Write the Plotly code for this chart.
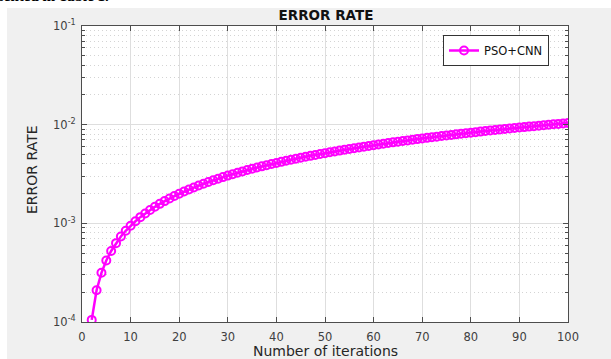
import plotly.graph_objects as go

iterations = list(range(2, 101))
error_rate = [
    1.05e-4, 2.10e-4, 3.15e-4, 4.20e-4, 5.25e-4, 6.30e-4, 7.35e-4, 8.40e-4, 9.45e-4,
    1.05e-3, 1.155e-3, 1.26e-3, 1.365e-3, 1.47e-3, 1.575e-3, 1.68e-3, 1.785e-3, 1.89e-3, 1.995e-3,
    2.10e-3, 2.205e-3, 2.31e-3, 2.415e-3, 2.52e-3, 2.625e-3, 2.73e-3, 2.835e-3, 2.94e-3, 3.045e-3,
    3.15e-3, 3.255e-3, 3.36e-3, 3.465e-3, 3.57e-3, 3.675e-3, 3.78e-3, 3.885e-3, 3.99e-3, 4.095e-3,
    4.20e-3, 4.305e-3, 4.41e-3, 4.515e-3, 4.62e-3, 4.725e-3, 4.83e-3, 4.935e-3, 5.04e-3, 5.145e-3,
    5.25e-3, 5.355e-3, 5.46e-3, 5.565e-3, 5.67e-3, 5.775e-3, 5.88e-3, 5.985e-3, 6.09e-3, 6.195e-3,
    6.30e-3, 6.405e-3, 6.51e-3, 6.615e-3, 6.72e-3, 6.825e-3, 6.93e-3, 7.035e-3, 7.14e-3, 7.245e-3,
    7.35e-3, 7.455e-3, 7.56e-3, 7.665e-3, 7.77e-3, 7.875e-3, 7.98e-3, 8.085e-3, 8.19e-3, 8.295e-3,
    8.40e-3, 8.505e-3, 8.61e-3, 8.715e-3, 8.82e-3, 8.925e-3, 9.03e-3, 9.135e-3, 9.24e-3, 9.345e-3,
    9.45e-3, 9.555e-3, 9.66e-3, 9.765e-3, 9.87e-3, 9.975e-3, 1.008e-2, 1.0185e-2, 1.029e-2, 1.0395e-2,
]
series_name = "PSO+CNN"
x_ticks = [0, 10, 20, 30, 40, 50, 60, 70, 80, 90, 100]
y_ticks = [1e-4, 1e-3, 1e-2, 1e-1]
y_ticklabels = ["10<sup>-4</sup>", "10<sup>-3</sup>", "10<sup>-2</sup>", "10<sup>-1</sup>"]
y_minor = [m * d for d in [1e-4, 1e-3, 1e-2] for m in range(2, 10)]
x_title = "Number of iterations"
y_title = "ERROR RATE"
chart_title = "ERROR RATE"

W, H = 611, 359
L, R, T, B = 82, 568, 26, 322
FONT = "DejaVu Sans, Verdana, sans-serif"
AXC = "#4d4d4d"

fig = go.Figure()
fig.add_trace(go.Scatter(
    x=iterations, y=error_rate, name=series_name, mode="lines+markers",
    line=dict(color="#ff00ff", width=2.5),
    marker=dict(symbol="circle-open", size=8, color="#ff00ff", line=dict(width=2, color="#ff00ff")),
))

def px_x(p):
    return (p - L) / (R - L)

def px_y(p):
    return (B - p) / (B - T)

shapes = [
    # white page areas outside the gray figure panel
    dict(type="rect", xref="paper", yref="paper", x0=px_x(-5), x1=px_x(W + 5), y0=px_y(8), y1=px_y(-5),
         fillcolor="white", line=dict(width=0), layer="below"),
    dict(type="rect", xref="paper", yref="paper", x0=px_x(-5), x1=px_x(7), y0=px_y(H + 5), y1=px_y(-5),
         fillcolor="white", line=dict(width=0), layer="below"),
]

fig.update_layout(
    width=W, height=H,
    margin=dict(l=L, r=W - R, t=T, b=H - B, pad=0, autoexpand=False),
    paper_bgcolor="#f0f0f0", plot_bgcolor="white",
    font=dict(family=FONT, size=11, color="#262626"),
    title=dict(text="<b>" + chart_title + "</b>", x=326 / W, xanchor="center", y=1 - 15 / H, yanchor="middle",
               font=dict(size=13.5, color="#111111")),
    showlegend=True,
    legend=dict(x=px_x(443), y=px_y(35), xanchor="left", yanchor="top",
                bgcolor="white", bordercolor="#333333", borderwidth=1,
                font=dict(size=11.5, color="#111111"), itemwidth=30,
                tracegroupgap=0),
    shapes=shapes,
    annotations=[
        dict(text="<b>sented in Table 1.</b>", xref="paper", yref="paper", x=px_x(-4), y=px_y(6),
             xanchor="left", yanchor="bottom", showarrow=False,
             font=dict(family="Liberation Serif, Times New Roman, serif", size=15, color="black")),
        dict(text=x_title, xref="paper", yref="paper", x=px_x(325), y=px_y(351),
             xanchor="center", yanchor="middle", showarrow=False,
             font=dict(size=14, color="#262626")),
        dict(text=y_title, xref="paper", yref="paper", x=px_x(32), y=px_y(170),
             xanchor="center", yanchor="middle", showarrow=False, textangle=-90,
             font=dict(size=14, color="#262626")),
    ],
)

fig.update_xaxes(
    range=[0, 100], tickvals=x_ticks, ticks="inside", ticklen=5, tickcolor=AXC,
    showline=True, linecolor=AXC, linewidth=1, mirror="allticks",
    showgrid=True, gridcolor="#dedede", gridwidth=1, zeroline=False, automargin=False,
    tickfont=dict(size=11.5, color="#404040"), ticklabelstandoff=4,
)
fig.update_yaxes(
    type="log", range=[-4, -1], tickvals=y_ticks, ticktext=y_ticklabels,
    ticks="inside", ticklen=5, tickcolor=AXC,
    showline=True, linecolor=AXC, linewidth=1, mirror="allticks",
    showgrid=True, gridcolor="#dedede", gridwidth=1, zeroline=False, automargin=False,
    tickfont=dict(size=11.5, color="#404040"), ticklabelstandoff=3,
    minor=dict(tickvals=y_minor, ticks="inside", ticklen=3, tickcolor=AXC,
               showgrid=True, gridcolor="#d4d4d4", griddash="1px,3px", gridwidth=1),
)

fig.write_html("out.html", post_script="document.body.style.margin='0px';document.body.style.overflow='hidden';",
               config={"displayModeBar": False})
